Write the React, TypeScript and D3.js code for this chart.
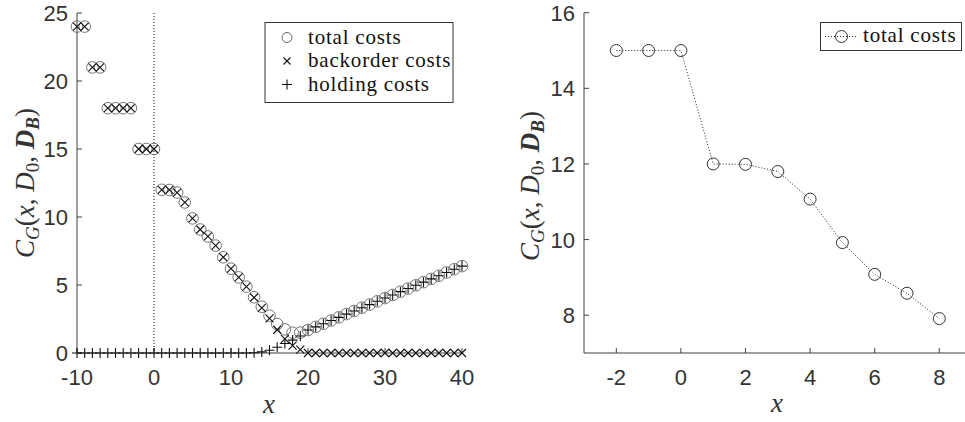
import * as d3 from "d3";

// left panel: x = -10..40
const xLeft = d3.range(-10, 41);
const totalCosts = [
  24, 24, 21, 21, 18, 18, 18, 18, 15, 15, 15,
  12, 11.99, 11.8, 11.07, 9.9, 9.08, 8.57, 7.9, 7.04, 6.2,
  5.56, 4.88, 4.1, 3.4, 2.74, 2.13, 1.74, 1.49, 1.5, 1.69,
  1.92, 2.15, 2.39, 2.62, 2.86, 3.09, 3.33, 3.56, 3.8, 4.04,
  4.27, 4.51, 4.74, 4.98, 5.21, 5.45, 5.68, 5.92, 6.16, 6.39,
];
const backorderCosts = [
  24, 24, 21, 21, 18, 18, 18, 18, 15, 15, 15,
  12, 11.99, 11.8, 11.07, 9.9, 9.08, 8.57, 7.9, 7.04, 6.2,
  5.56, 4.88, 4.08, 3.32, 2.54, 1.71, 1.04, 0.54, 0.25, 0,
  0, 0, 0, 0, 0, 0, 0, 0, 0, 0,
  0, 0, 0, 0, 0, 0, 0, 0, 0, 0,
];
const holdingCosts = [
  0, 0, 0, 0, 0, 0, 0, 0, 0, 0, 0,
  0, 0, 0, 0, 0, 0, 0, 0, 0, 0,
  0, 0, 0.02, 0.08, 0.2, 0.42, 0.7, 0.95, 1.25, 1.69,
  1.92, 2.15, 2.39, 2.62, 2.86, 3.09, 3.33, 3.56, 3.8, 4.04,
  4.27, 4.51, 4.74, 4.98, 5.21, 5.45, 5.68, 5.92, 6.16, 6.39,
];
const leftXTicks = [-10, 0, 10, 20, 30, 40];
const leftYTicks = [0, 5, 10, 15, 20, 25];
const leftLegend = ["total costs", "backorder costs", "holding costs"];

// right panel: zoom on x = -2..8
const xRight = [-2, -1, 0, 1, 2, 3, 4, 5, 6, 7, 8];
const totalRight = [15, 15, 15, 12, 11.99, 11.8, 11.07, 9.92, 9.08, 8.58, 7.91];
const rightXTicks = [-2, 0, 2, 4, 6, 8];
const rightYTicks = [8, 10, 12, 14, 16];

const AXIS = "#404040";
const SANS = "Liberation Sans";
const SERIF = "Liberation Serif";

const crossPath = (s) => `M${-s},${-s}L${s},${s}M${-s},${s}L${s},${-s}`;
const plusPath = (s) => `M${-s},0H${s}M0,${-s}V${s}`;

// left/bottom axes with inward ticks, MATLAB style
const Axes = ({ x, y, xTicks, yTicks }) => {
  const [x0, x1] = x.range();
  const [y0, y1] = y.range();
  return (
    <g stroke={AXIS} strokeWidth={1} fill="none">
      <line x1={x0} x2={x1} y1={y0} y2={y0} />
      <line x1={x0} x2={x0} y1={y0} y2={y1} />
      {xTicks.map((t) => (
        <g key={"x" + t}>
          <line x1={x(t)} x2={x(t)} y1={y0} y2={y0 - 5} />
          <text
            x={x(t)}
            y={y0 + 32}
            textAnchor="middle"
            stroke="none"
            fill="#333"
            style={{ fontFamily: SANS, fontSize: 22 }}
          >
            {String(t)}
          </text>
        </g>
      ))}
      {yTicks.map((t) => (
        <g key={"y" + t}>
          <line x1={x0} x2={x0 + 5} y1={y(t)} y2={y(t)} />
          <text
            x={x0 - 9}
            y={y(t) + 8}
            textAnchor="end"
            stroke="none"
            fill="#333"
            style={{ fontFamily: SANS, fontSize: 22 }}
          >
            {String(t)}
          </text>
        </g>
      ))}
    </g>
  );
};

const YLabel = ({ cx, cy }) => (
  <text
    transform={`translate(${cx},${cy}) rotate(-90)`}
    textAnchor="middle"
    fill="#333"
    style={{ fontFamily: SERIF, fontSize: 27 }}
  >
    <tspan style={{ fontStyle: "italic" }}>C</tspan>
    <tspan dy={5} style={{ fontStyle: "italic", fontSize: 19 }}>G</tspan>
    <tspan dy={-5}>(</tspan>
    <tspan style={{ fontStyle: "italic" }}>x</tspan>
    <tspan>{", "}</tspan>
    <tspan style={{ fontStyle: "italic" }}>D</tspan>
    <tspan dy={5} style={{ fontSize: 19 }}>0</tspan>
    <tspan dy={-5}>{", "}</tspan>
    <tspan style={{ fontStyle: "italic", fontWeight: "bold" }}>D</tspan>
    <tspan dy={5} style={{ fontStyle: "italic", fontWeight: "bold", fontSize: 19 }}>B</tspan>
    <tspan dy={-5}>)</tspan>
  </text>
);

const XLabel = ({ cx, y }) => (
  <text
    x={cx}
    y={y}
    textAnchor="middle"
    fill="#333"
    style={{ fontFamily: SERIF, fontStyle: "italic", fontSize: 27 }}
  >
    x
  </text>
);

const LegendText = ({ x, y, label }) => (
  <text x={x} y={y} fill="#111" style={{ fontFamily: SERIF, fontSize: 21, letterSpacing: 0.8 }}>
    {label}
  </text>
);

const App = () => {
  // left panel
  const xL = d3.scaleLinear().domain([-10, 40]).range([77, 462]);
  const yL = d3.scaleLinear().domain([0, 25]).range([353, 13]);
  // right panel
  const xR = d3.scaleLinear().domain([-3, 9]).range([584, 971.6]);
  const yR = d3.scaleLinear().domain([7, 16]).range([353, 12.7]);

  const line = d3
    .line()
    .x((d) => xR(d))
    .y((d, i) => yR(totalRight[i]));

  return (
    <svg width={965} height={422} style={{ position: "absolute", left: 0, top: 0, background: "#fff" }}>
      {/* ---------- left panel ---------- */}
      <line
        x1={xL(0)}
        x2={xL(0)}
        y1={yL(25)}
        y2={yL(0)}
        stroke="#000"
        strokeWidth={1}
        strokeDasharray="1,2"
      />
      <Axes x={xL} y={yL} xTicks={leftXTicks} yTicks={leftYTicks} />
      <g fill="none">
        {xLeft.map((d, i) => (
          <circle key={"c" + d} cx={xL(d)} cy={yL(totalCosts[i])} r={5.8} stroke="#666" strokeWidth={0.9} />
        ))}
        {xLeft.map((d, i) => (
          <path
            key={"b" + d}
            transform={`translate(${xL(d)},${yL(backorderCosts[i])})`}
            d={crossPath(4)}
            stroke="#111"
            strokeWidth={1.1}
          />
        ))}
        {xLeft.map((d, i) => (
          <path
            key={"h" + d}
            transform={`translate(${xL(d)},${yL(holdingCosts[i])})`}
            d={plusPath(5)}
            stroke="#111"
            strokeWidth={1.1}
          />
        ))}
      </g>

      <rect x={265} y={22.5} width={188} height={80} fill="#fff" stroke="#333" strokeWidth={1} />
      {leftLegend.map((label, i) => {
        const by = 43.5 + i * 23.5;
        const my = by - 6;
        return (
          <g key={label}>
            {i === 0 ? (
              <circle cx={287} cy={my} r={5} fill="none" stroke="#666" />
            ) : (
              <path
                transform={`translate(287,${my})`}
                d={i === 1 ? crossPath(3.5) : plusPath(5)}
                stroke="#111"
                strokeWidth={1.1}
              />
            )}
            <LegendText x={308} y={by} label={label} />
          </g>
        );
      })}

      <YLabel cx={34} cy={183} />
      <XLabel cx={269} y={413} />

      {/* ---------- right panel ---------- */}
      <Axes x={xR} y={yR} xTicks={rightXTicks} yTicks={rightYTicks} />
      <path d={line(xRight)} fill="none" stroke="#222" strokeWidth={1} strokeDasharray="1,2" />
      {xRight.map((d, i) => (
        <circle key={"r" + d} cx={xR(d)} cy={yR(totalRight[i])} r={6} fill="none" stroke="#333" strokeWidth={1} />
      ))}

      <rect x={820.5} y={22.5} width={141} height={28} fill="#fff" stroke="#333" strokeWidth={1} />
      <line x1={825} x2={858} y1={36.5} y2={36.5} stroke="#222" strokeDasharray="1,2" />
      <circle cx={841.5} cy={36.5} r={6} fill="none" stroke="#333" />
      <LegendText x={863} y={42} label="total costs" />

      <YLabel cx={539} cy={186} />
      <XLabel cx={777} y={412} />
    </svg>
  );
};

export default App;
